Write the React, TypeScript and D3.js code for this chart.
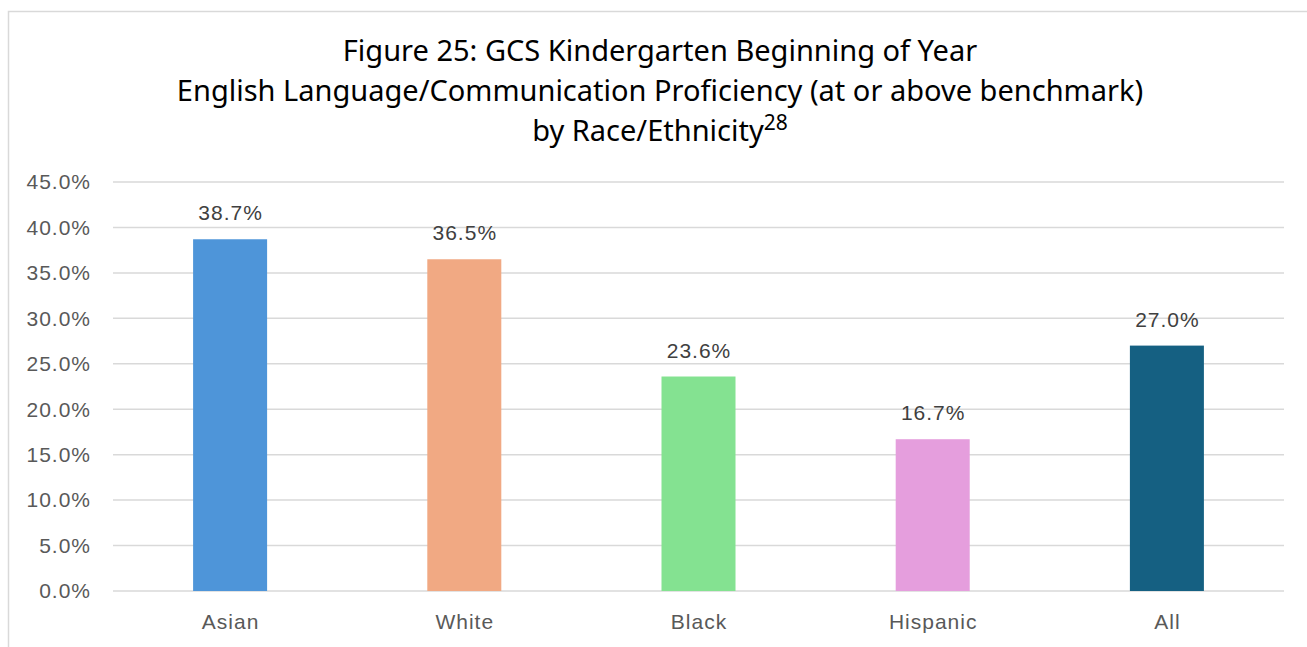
import React from "react";
import * as d3 from "d3";

const categories = ["Asian", "White", "Black", "Hispanic", "All"];
const values = [38.7, 36.5, 23.6, 16.7, 27.0];
const barColors = ["#4E95D9", "#F1A983", "#84E291", "#E59EDD", "#156082"];
const yTicks = [0, 5, 10, 15, 20, 25, 30, 35, 40, 45];
const titleLines = [
  "Figure 25: GCS Kindergarten Beginning of Year",
  "English Language/Communication Proficiency (at or above benchmark)",
];

const W = 1307;
const H = 647;
const left = 113;
const right = 1284;
const top = 182;
const bottom = 591;

export default function App() {
  const x = d3.scaleBand<string>().domain(categories).range([left, right]).paddingInner(0.684).paddingOuter(0.342);
  const y = d3.scaleLinear().domain([0, 45]).range([bottom, top]);
  const labelFont = "'Liberation Sans', Arial, sans-serif";
  const titleFont = "'Noto Sans', 'Open Sans', sans-serif";
  const ls = 1;
  return (
    <svg width={W} height={H} style={{ position: "absolute", left: 0, top: 0, background: "#fff" }}>
      <rect x={8.5} y={11.5} width={W + 10} height={H + 10} fill="#fff" stroke="#d9d9d9" strokeWidth={1.5} />
      {titleLines.map((t, i) => (
        <text key={i} x={660} y={61 + i * 40} textAnchor="middle" fontFamily={titleFont} fontSize={29} fill="#000">
          {t}
        </text>
      ))}
      <text x={660} y={141} textAnchor="middle" fontFamily={titleFont} fontSize={29} fill="#000">
        by Race/Ethnicity
        <tspan fontSize={21} dy={-11}>28</tspan>
      </text>
      {yTicks.map((t) => (
        <g key={t}>
          <line x1={left} x2={right} y1={y(t)} y2={y(t)} stroke="#d9d9d9" strokeWidth={1.5} />
          <text x={90 + ls} y={y(t)} dy="0.35em" textAnchor="end" fontFamily={labelFont} fontSize={21} letterSpacing={ls} fill="#595959">
            {t.toFixed(1) + "%"}
          </text>
        </g>
      ))}
      {categories.map((c, i) => (
        <g key={c}>
          <rect x={x(c)} y={y(values[i])} width={x.bandwidth()} height={y(0) - y(values[i])} fill={barColors[i]} />
          <text x={(x(c) as number) + x.bandwidth() / 2 + ls / 2} y={y(values[i]) - 19} textAnchor="middle" fontFamily={labelFont} fontSize={21} letterSpacing={ls} fill="#404040">
            {values[i].toFixed(1) + "%"}
          </text>
          <text x={(x(c) as number) + x.bandwidth() / 2 + ls / 2} y={629} textAnchor="middle" fontFamily={labelFont} fontSize={21} letterSpacing={ls} fill="#595959">
            {c}
          </text>
        </g>
      ))}
    </svg>
  );
}
